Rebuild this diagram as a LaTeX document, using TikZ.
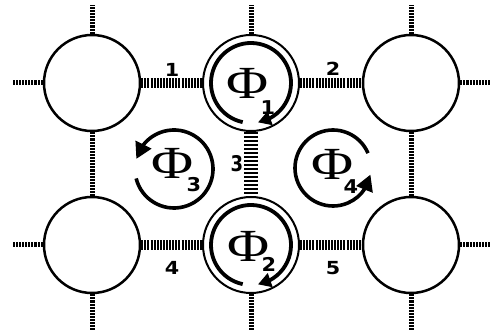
\documentclass[tikz,border=0pt]{standalone}
\usepackage{fontspec}
\usetikzlibrary{arrows.meta,bending}
\newfontfamily\phifont{Liberation Serif}
\newfontfamily\numfont{DejaVu Sans}
\begin{document}
\begin{tikzpicture}[x=1pt,y=1pt,
  cell/.style={circle, draw, line width=2.5pt, minimum size=96pt, inner sep=0pt},
  midcell/.style={circle, draw, line width=2pt, minimum size=96pt, inner sep=0pt},
  stub/.style={line width=5pt, dash pattern=on 2.1pt off 1pt},
  ladder/.style={line width=10pt, dash pattern=on 2pt off 1.1pt},
  vladder/.style={line width=14pt, dash pattern=on 2.3pt off 1.7pt},
  ring/.style={line width=3.8pt, -{Triangle[length=13pt,width=14pt]}},
  bigring/.style={line width=3.6pt, -{Triangle[length=16pt,width=17pt]}},
  phi/.style={inner sep=0pt, font=\phifont\fontsize{46}{46}\selectfont},
  sub/.style={inner sep=0pt, font=\numfont\bfseries\fontsize{19}{19}\selectfont},
  lab/.style={inner sep=0pt, font=\numfont\bfseries\fontsize{18}{18}\selectfont}
]
\useasboundingbox (0,0) rectangle (491,335);
\fill[white] (0,0) rectangle (491,335);

% cells
\node[cell] (TL) at (92,252) {};
\node[midcell] (TM) at (251,252) {};
\node[cell] (TR) at (411,252) {};
\node[cell] (BL) at (92,90) {};
\node[midcell] (BM) at (251,90) {};
\node[cell] (BR) at (411,90) {};

% free ends
\coordinate (tTL) at (92,330);
\coordinate (tTM) at (251,330);
\coordinate (tTR) at (411,330);
\coordinate (bBL) at (92,5);
\coordinate (bBM) at (251,5);
\coordinate (bBR) at (411,5);
\coordinate (lTL) at (12,252);
\coordinate (lBL) at (12,90);
\coordinate (rTR) at (490,252);
\coordinate (rBR) at (490,90);

% thin dashed stubs
\draw[stub] (TL) -- (tTL);
\draw[stub] (TM) -- (tTM);
\draw[stub] (TR) -- (tTR);
\draw[stub] (BL) -- (bBL);
\draw[stub] (BM) -- (bBM);
\draw[stub] (BR) -- (bBR);
\draw[stub] (TL) -- (lTL);
\draw[stub] (BL) -- (lBL);
\draw[stub] (TR) -- (rTR);
\draw[stub] (BR) -- (rBR);
\draw[stub] (TL) -- (BL);
\draw[stub] (TR) -- (BR);

% ladders
\draw[ladder] (TL) -- (TM);
\draw[ladder] (TM) -- (TR);
\draw[ladder] (BL) -- (BM);
\draw[ladder] (BM) -- (BR);
\draw[vladder] (TM) -- (BM);

% ring arrows inside middle cells
\draw[ring] ([shift={(258:40)}]TM.center) arc[start angle=258, end angle=-80, radius=40];
\draw[ring] ([shift={(258:40)}]BM.center) arc[start angle=258, end angle=-80, radius=40];

% loop arrows
\coordinate (C3) at (174,166);
\coordinate (C4) at (333,167);
\draw[bigring] ([shift={(194:39)}]C3) arc[start angle=194, end angle=525, radius=39];
\draw[bigring] ([shift={(23:38)}]C4) arc[start angle=23, end angle=350, radius=38];

% Phi labels
\node[phi] (p1) at (248,252) {\scalebox{1.25}[1]{Φ}};
\node[sub] (s1) at (268,227) {\scalebox{1.1}[1]{1}};
\node[phi] (p2) at (249,89) {\scalebox{1.25}[1]{Φ}};
\node[sub] (s2) at (269,71) {\scalebox{1.1}[1]{2}};
\node[phi] (p3) at (173,172) {\scalebox{1.25}[1]{Φ}};
\node[sub] (s3) at (194,150) {\scalebox{1.1}[1]{3}};
\node[phi] (p4) at (333,171) {\scalebox{1.25}[1]{Φ}};
\node[sub] (s4) at (351,148) {\scalebox{1.1}[1]{4}};

% junction numbers
\node[lab] (n1) at (172,265) {\scalebox{1.15}[1]{1}};
\node[lab] (n2) at (333,266) {\scalebox{1.15}[1]{2}};
\node[lab] (n3) at (237,171) {\scalebox{1}[1.2]{3}};
\node[lab] (n4) at (172,67) {\scalebox{1.15}[1]{4}};
\node[lab] (n5) at (333,67) {\scalebox{1.15}[1]{5}};
\end{tikzpicture}
\end{document}
